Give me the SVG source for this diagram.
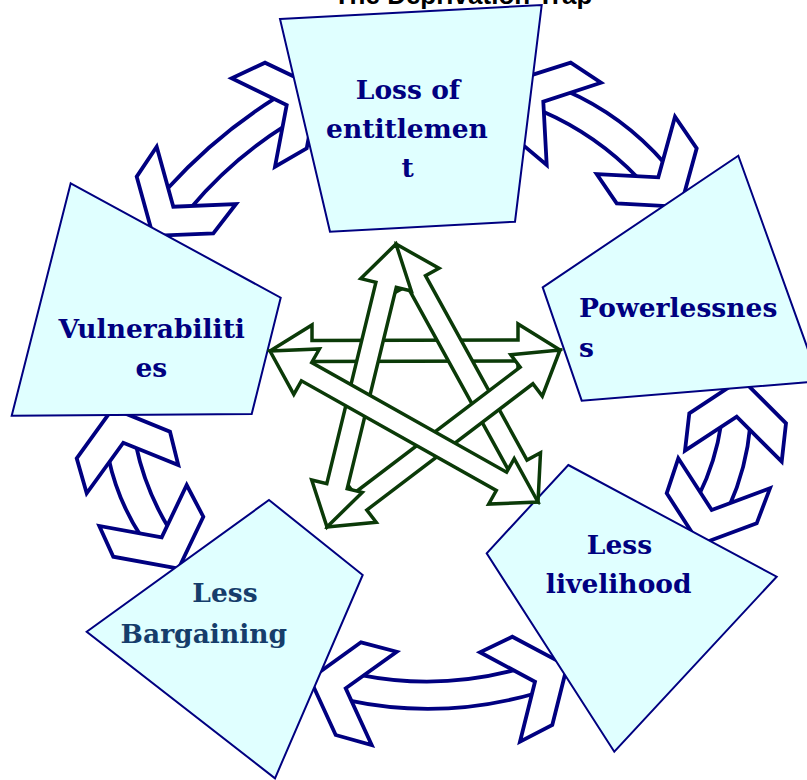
<svg xmlns="http://www.w3.org/2000/svg" width="807" height="780" viewBox="0 0 807 780">
<style>
.box{fill:#E0FFFF;stroke:#000080;stroke-width:2;stroke-linejoin:miter}
.chev{fill:#FFFFFF;stroke:#000080;stroke-width:3.8;stroke-linejoin:miter}
.band{fill:none;stroke:#000080;stroke-width:3.8}
.star{fill:#FFFFFF;stroke:#0B3A08;stroke-width:3.5;stroke-linejoin:miter}
.lbl{font-family:"DejaVu Serif","Liberation Serif",serif;font-weight:bold;font-size:26.5px;fill:#000080}
.mid{text-anchor:middle}
.title{font-family:"Liberation Sans",Arial,sans-serif;font-weight:bold;font-size:26px;fill:#000000;text-anchor:middle}
</style>
<rect width="807" height="780" fill="#FFFFFF"/>
<text class="title" x="463" y="4">The Deprivation Trap</text>

<g id="connectors-ring">
  <g id="arrow-vuln-loss">
    <path class="band" d="M166.9,189.3 Q215.3,135.6 276.4,97.4"/>
    <path class="band" d="M190.3,208.5 Q231.2,159.6 285.3,125.7"/>
    <polygon class="chev" points="318,88 265,62.7 231.7,78.3 286.7,105 275,166.7 306.7,148.3"/>
    <polygon class="chev" points="153.1,235.9 136.7,176.7 156.7,146.7 173.3,206.7 236,204 213.3,233.3"/>
  </g>
  <g id="arrow-loss-power">
    <path class="band" d="M565.1,90.3 Q622.5,115.1 665,163.7"/>
    <path class="band" d="M541.7,111 Q596.9,134.9 638.3,178.3"/>
    <polygon class="chev" points="515.8,80.1 570.7,62.7 601,82.7 543.3,101.7 546.7,165 519,141.7"/>
    <polygon class="chev" points="680.6,206.8 696.7,148.3 675,116.7 658.3,177.3 596.7,174 616.7,203.3"/>
  </g>
  <g id="arrow-power-live">
    <path class="band" d="M721.2,423.7 Q715.7,461.4 698.8,495.5"/>
    <path class="band" d="M750.3,425.4 Q746.5,468 729,506.9"/>
    <polygon class="chev" points="741.6,378.9 689.3,413.3 685,450.7 736.7,416.7 781.7,461.7 786,423.3"/>
    <polygon class="chev" points="699.7,544.5 666.7,493.3 678.3,458.3 711.7,510 770,488.3 756.7,523.3"/>
  </g>
  <g id="arrow-live-barg">
    <path class="band" d="M361,675.1 Q438.7,690.5 517,669.5"/>
    <path class="band" d="M347,700.2 Q441.7,720.6 536,693.2"/>
    <polygon class="chev" points="310,679 361,642.3 396.7,651.7 345.7,688.3 371.7,745 335.7,735"/>
    <polygon class="chev" points="567.1,665.9 512.3,636.7 480,652.3 535,681.7 520,741.7 552.3,725"/>
  </g>
  <g id="arrow-barg-vuln">
    <path class="band" d="M108.5,457.8 Q117.6,500.6 141.5,537.1"/>
    <path class="band" d="M135.8,444.7 Q145.1,489.6 169.1,528.7"/>
    <polygon class="chev" points="112.8,408.4 76.7,458.3 86.7,493.3 123.3,442.7 178.3,465 170,431.7"/>
    <polygon class="chev" points="178.6,568.5 203.3,516.7 186.7,485 161.7,537.3 99.3,526 113.3,556.7"/>
  </g>
</g>

<g id="node-loss">
  <polygon class="box" points="280,19 541.7,5 515,221.7 330,231.7"/>
  <text class="lbl mid" x="408" y="99">Loss of</text>
  <text class="lbl mid" x="407" y="137.7">entitlemen</text>
  <text class="lbl mid" x="407.5" y="176.7">t</text>
</g>
<g id="node-power">
  <polygon class="box" points="542.7,287.3 738.3,155.7 819.4,381.2 581.7,400.7"/>
  <text class="lbl" x="579" y="317.3">Powerlessnes</text>
  <text class="lbl" x="579" y="357.3">s</text>
</g>
<g id="node-live">
  <polygon class="box" points="568.3,465 776.7,576.7 614.3,751.7 486.7,553.3"/>
  <text class="lbl mid" x="619.5" y="554.3">Less</text>
  <text class="lbl mid" x="618.7" y="593.3">livelihood</text>
</g>
<g id="node-barg">
  <polygon class="box" points="269,500 362.7,575 275,778.3 86.7,631.7"/>
  <text class="lbl mid" x="225" y="602.3" style="fill:#163D6B">Less</text>
  <text class="lbl mid" x="203.8" y="643.3" style="fill:#163D6B">Bargaining</text>
</g>
<g id="node-vuln">
  <polygon class="box" points="70.7,183.3 280.7,297.7 251.7,414 11.7,415.7"/>
  <text class="lbl mid" x="151.7" y="338.3">Vulnerabiliti</text>
  <text class="lbl mid" x="151.3" y="377.3">es</text>
</g>

<g id="connectors-star">
  <polygon class="star" points="270,351 312,325 312,340.5 518,340 518,324 560,350 518,376 518,361 312,361.5 312,377"/>
  <polygon class="star" points="396,244 439,268.3 425.5,275.7 527,460.1 540.5,452.7 538,502 495,477.7 508.6,470.3 407.1,285.9 393.5,293.3"/>
  <polygon class="star" points="560,350 542.3,396.1 532.9,383.8 366.8,510 376.2,522.3 327,527 344.7,480.9 354.1,493.2 520.2,367.1 510.8,354.7"/>
  <polygon class="star" points="396,244 411.3,291 396.3,287.3 347.2,488.7 362.2,492.4 327,527 311.7,480 326.8,483.7 375.9,282.3 360.8,278.6"/>
  <polygon class="star" points="270,351 319.4,349 311.7,362.5 506.6,472.2 514.2,458.7 538,502 488.7,504 496.3,490.5 301.4,380.8 293.8,394.3"/>
</g>
</svg>
